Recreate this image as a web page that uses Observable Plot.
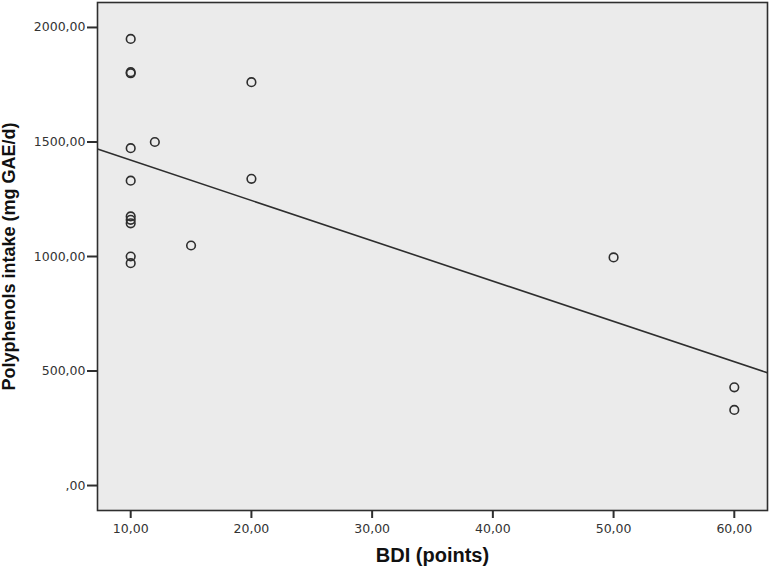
<!DOCTYPE html>
<html>
<head>
<meta charset="utf-8">
<script src="https://cdn.jsdelivr.net/npm/d3@7"></script>
<script src="https://cdn.jsdelivr.net/npm/@observablehq/plot@0.6"></script>
<style>
  html, body { margin: 0; padding: 0; background: #ffffff; }
  #chart svg { display: block; }
</style>
</head>
<body>
<div id="chart"></div>
<script>
// Data
const bdi = [10, 10, 10, 10, 10, 10, 10, 10, 10, 10, 12, 15, 20, 20, 50, 60, 60];
const polyphenols = [1950, 1800, 1805, 1473, 1331, 1175, 1160, 1145, 1000, 971, 1500, 1048, 1761, 1339, 996, 429, 330];
const xTicks = [10, 20, 30, 40, 50, 60];
const yTicks = [0, 500, 1000, 1500, 2000];
const xLabel = "BDI (points)";
const yLabel = "Polyphenols intake (mg GAE/d)";
const xDomain = [7.25, 62.75];
const yDomain = [-109, 2109];

const points = bdi.map((x, i) => ({x, y: polyphenols[i]}));

// Least-squares fit line computed from the data
const mx = d3.mean(bdi), my = d3.mean(polyphenols);
const sxy = d3.sum(points, d => (d.x - mx) * (d.y - my));
const sxx = d3.sum(points, d => (d.x - mx) ** 2);
const slope = sxy / sxx;
const intercept = my - slope * mx;
const fit = xDomain.map(x => ({x, y: intercept + slope * x}));

const fmt = d => {
  const s = d.toFixed(2).replace(".", ",");
  return s.startsWith("0,") ? s.slice(1) : s;
};

const ink = "#2e2e2e";

const chart = Plot.plot({
  width: 771,
  height: 567,
  marginLeft: 97,
  marginRight: 4,
  marginTop: 2,
  marginBottom: 57,
  style: {fontFamily: "'DejaVu Sans', sans-serif", fontSize: "12.5px", color: "#333", background: "#fff"},
  x: {domain: xDomain, ticks: xTicks, tickFormat: fmt, label: null},
  y: {domain: yDomain, ticks: yTicks, tickFormat: fmt, label: null},
  marks: [
    Plot.frame({fill: "#ebebeb", stroke: null}),
    Plot.axisX({ticks: xTicks, tickFormat: fmt, tickSize: 8, tickPadding: 6, strokeWidth: 2, stroke: ink, label: null}),
    Plot.axisY({ticks: yTicks, tickFormat: fmt, tickSize: 10, tickPadding: 2, strokeWidth: 2, stroke: ink, label: null}),
    Plot.line(fit, {x: "x", y: "y", stroke: ink, strokeWidth: 1.6, clip: true}),
    Plot.dot(points, {x: "x", y: "y", r: 4.3, stroke: ink, strokeWidth: 1.6, fill: "none"}),
    Plot.frame({stroke: ink, strokeWidth: 1.6}),
    Plot.text([yLabel], {frameAnchor: "left", dx: -88, rotate: -90, text: d => d,
      textAnchor: "middle", lineAnchor: "middle",
      fontFamily: "'Liberation Sans', Arial, sans-serif", fontWeight: "bold", fontSize: 18, fill: "#111"}),
    Plot.text([xLabel], {frameAnchor: "bottom", dy: 45, text: d => d,
      textAnchor: "middle", lineAnchor: "middle",
      fontFamily: "'Liberation Sans', Arial, sans-serif", fontWeight: "bold", fontSize: 20, fill: "#111"})
  ]
});
document.getElementById("chart").appendChild(chart);
</script>
</body>
</html>
